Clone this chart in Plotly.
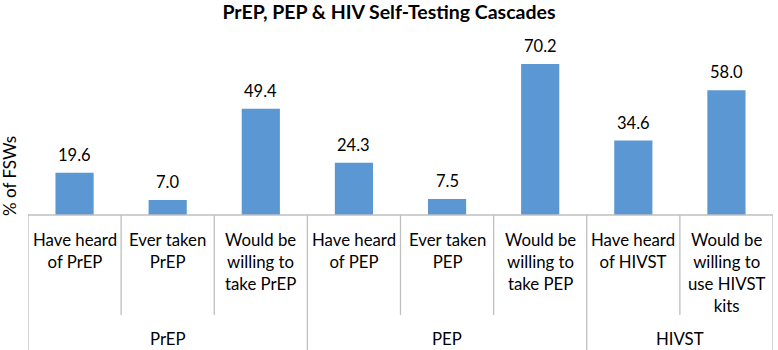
import plotly.graph_objects as go

# ---- data ----
groups = ["PrEP", "PEP", "HIVST"]
group_sizes = [3, 3, 2]
categories = [
    "Have heard<br>of PrEP", "Ever taken<br>PrEP", "Would be<br>willing to<br>take PrEP",
    "Have heard<br>of PEP", "Ever taken<br>PEP", "Would be<br>willing to<br>take PEP",
    "Have heard<br>of HIVST", "Would be<br>willing to<br>use HIVST<br>kits",
]
values = [19.6, 7.0, 49.4, 24.3, 7.5, 70.2, 34.6, 58.0]

title = "PrEP, PEP & HIV Self-Testing Cascades"
y_title = "% of FSWs"

# ---- layout constants (pixels) ----
W, H = 778, 350
ML, MR, MT = 28, 5, 30
BASE_PX = 215          # pixel row of the value axis baseline
PX_PER_UNIT = 2.15
INNER_BOTTOM_PX = 315  # bottom of dividers between categories
CAT_TOP_PX = 227       # top of category text
GROUP_MID_PX = 338     # centre of group labels

def py(px):
    """convert a pixel row to a y-data value"""
    return (BASE_PX - px) / PX_PER_UNIT

y_top = py(MT)
y_bot = py(H)

bar_color = "#5b98d3"
line_color = "#bfbfbf"
font = "Lato, Carlito, 'Open Sans', sans-serif"

xs = list(range(len(values)))
fig = go.Figure(go.Bar(
    x=xs, y=values, marker=dict(color=bar_color, line=dict(width=0)),
    width=0.41, hoverinfo="skip",
))

annotations = []
for x, v in zip(xs, values):
    annotations.append(dict(x=x, y=v, xref="x", yref="y", text=f"{v:.1f}",
                            showarrow=False, yanchor="bottom", yshift=6,
                            font=dict(size=16.5, color="#000", family=font)))
for x, c in zip(xs, categories):
    annotations.append(dict(x=x, y=py(CAT_TOP_PX), xref="x", yref="y", text=c,
                            showarrow=False, yanchor="top", align="center",
                            font=dict(size=16.8, color="#000", family=font)))

shapes = [dict(type="line", xref="x", yref="y", x0=-0.5, x1=len(values) - 0.5,
               y0=0, y1=0, line=dict(color=line_color, width=1.3))]
start = 0
group_edges = {-0.5}
for g, n in zip(groups, group_sizes):
    mid = start + (n - 1) / 2
    annotations.append(dict(x=mid, y=py(GROUP_MID_PX), xref="x", yref="y", text=g,
                            showarrow=False, yanchor="middle",
                            font=dict(size=16.8, color="#000", family=font)))
    start += n
    group_edges.add(start - 0.5)
for i in range(len(values) + 1):
    b = i - 0.5
    y1 = y_bot if b in group_edges else py(INNER_BOTTOM_PX)
    shapes.append(dict(type="line", xref="x", yref="y", x0=b, x1=b, y0=0, y1=y1,
                       line=dict(color=line_color, width=1.3)))

annotations.append(dict(x=0, y=py(176), xref="paper", yref="y", xanchor="center",
                        text=y_title, textangle=-90, showarrow=False,
                        xshift=9 - ML, font=dict(size=17, color="#000", family=font)))

fig.update_layout(
    width=W, height=H,
    margin=dict(l=ML, r=MR, t=MT, b=0, pad=0),
    plot_bgcolor="white", paper_bgcolor="white",
    showlegend=False,
    title=dict(text=f"<b>{title}</b>", x=0.5, xref="container", y=1 - 12 / H,
               yanchor="middle", xanchor="center",
               font=dict(size=19.5, color="#000", family=font)),
    xaxis=dict(range=[-0.5, len(values) - 0.5], visible=False, fixedrange=True),
    yaxis=dict(range=[y_bot, y_top], visible=False, fixedrange=True),
    annotations=annotations, shapes=shapes,
)
fig.write_html("out.html", config={"displayModeBar": False},
               post_script="document.body.style.margin='0';document.body.style.overflow='hidden';")
